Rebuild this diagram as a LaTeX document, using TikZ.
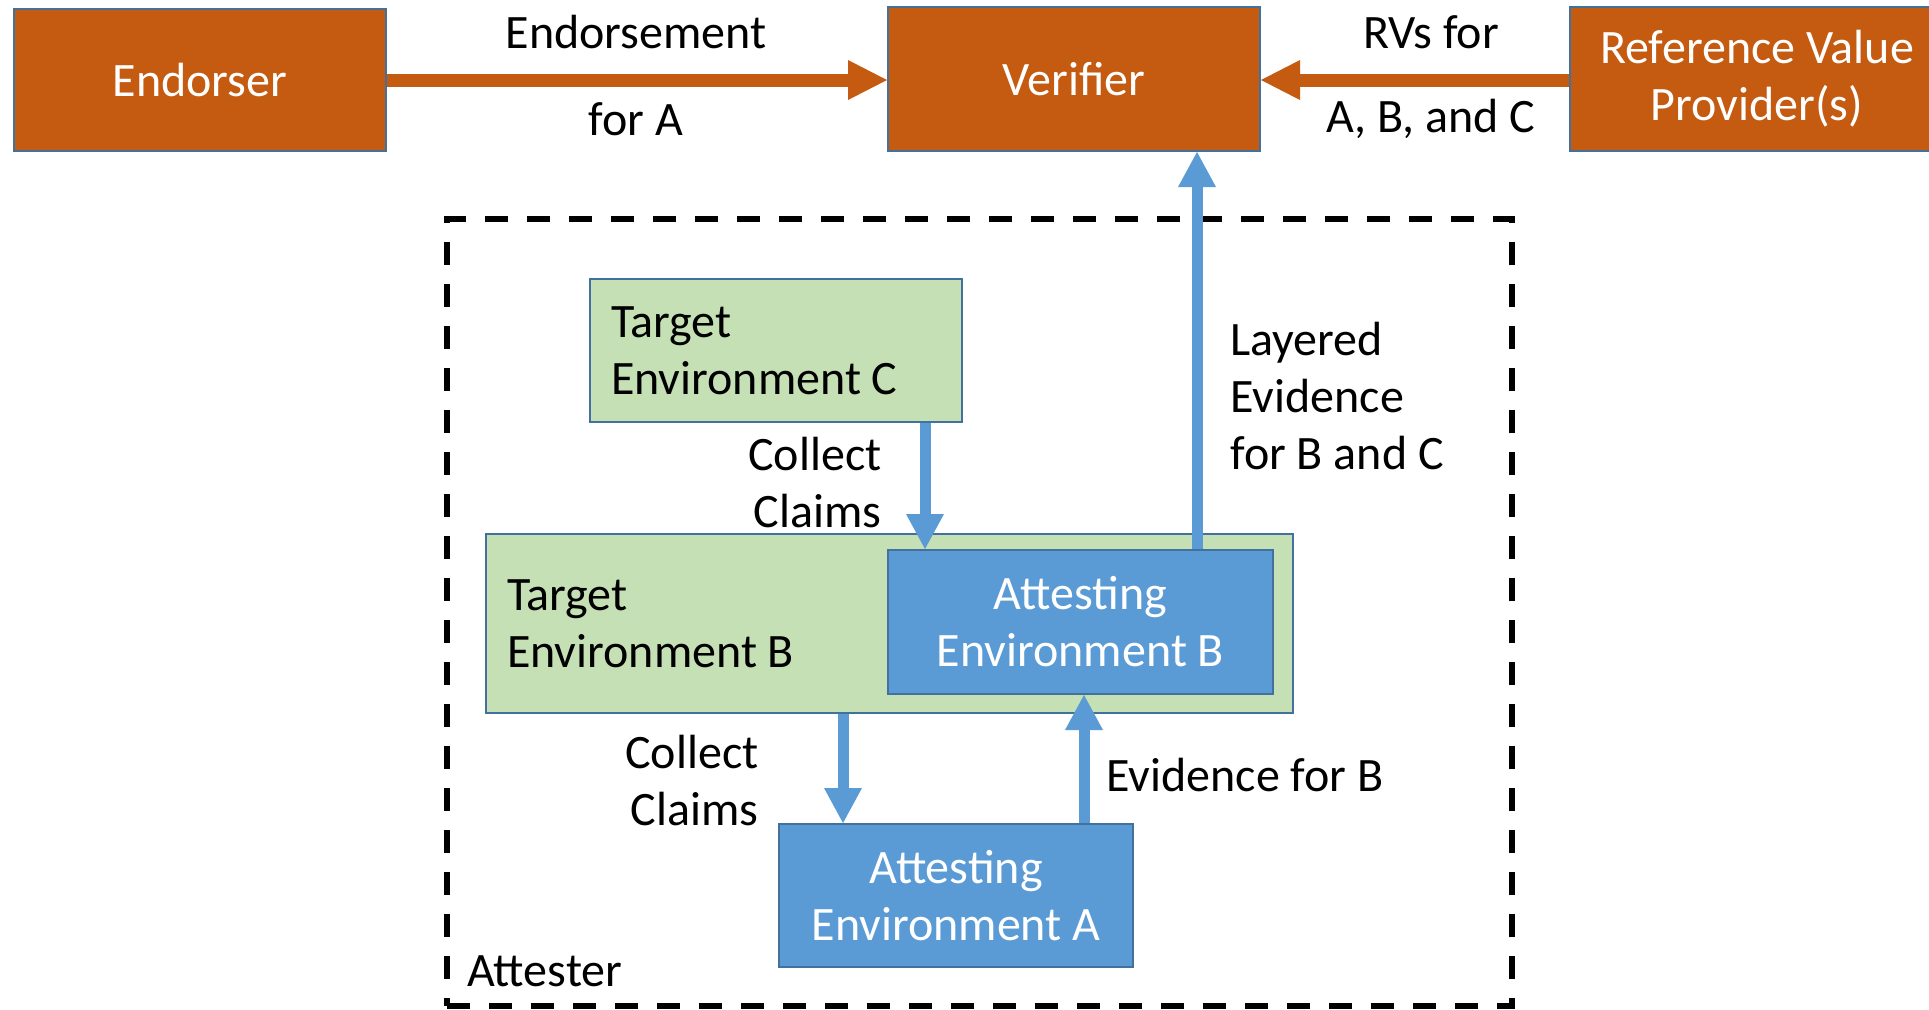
\documentclass[tikz,border=0pt]{standalone}
\usepackage{fontspec}
\setmainfont{Carlito}
\usetikzlibrary{arrows.meta}
\definecolor{rustbox}{HTML}{C55A11}
\definecolor{skybox}{HTML}{5B9BD5}
\definecolor{sagebox}{HTML}{C5E0B4}
\definecolor{edgeblue}{HTML}{41719C}
\begin{document}
\begin{tikzpicture}[x=0.5pt,y=-0.5pt,
  every node/.style={font=\fontsize{24}{28.5}\selectfont},
  box/.style={draw=edgeblue, line width=1pt, inner sep=0pt},
  orangebox/.style={box, fill=rustbox, text=white, align=center},
  bluebox/.style={box, fill=skybox, text=white, align=center},
  greenbox/.style={box, fill=sagebox, text=black, align=flush left, inner xsep=10.5pt},
  lbl/.style={inner sep=0pt, text=black},
  orangeflow/.style={draw=rustbox, line width=6.5pt,
    -{Triangle[length=19.5pt,width=20pt,line width=0pt]}},
  blueflow/.style={draw=skybox, line width=5.5pt,
    -{Triangle[length=17.5pt,width=19pt,line width=0pt]}},
]
\useasboundingbox (0,0) rectangle (1929,1009);

% top row
\node[orangebox, minimum width=186pt, minimum height=71pt] (endorser) at (200,80) {Endorser};
\node[orangebox, minimum width=186pt, minimum height=72pt] (verifier) at (1074,79) {Verifier};
\node[orangebox, minimum width=187pt, minimum height=72pt] (rvp) at (1757,79) {Reference Value\\Provider(s)};

% attester boundary
\node[draw=black, line width=3pt, dash pattern=on 11.5pt off 9.5pt,
  minimum width=532.5pt, minimum height=393.5pt, inner sep=0pt] (attester) at (979.5,612.5) {};
\node[lbl, anchor=west] (attesterlbl) at (467,971) {Attester};

% environments
\node[greenbox, text width=165pt, minimum width=186pt, minimum height=71.5pt] (tec) at (776,350.5) {Target\\Environment C};
\node[greenbox, text width=382.5pt, minimum width=402.5pt, minimum height=89.5pt] (teb) at (889.5,623.5) {Target\\Environment B};
\node[bluebox, minimum width=192.5pt, minimum height=72pt] (aeb) at (1080.5,622) {Attesting\\Environment B};
\node[bluebox, minimum width=177pt, minimum height=71.5pt] (aea) at (956,895.5) {Attesting\\Environment A};

% connector labels
\node[lbl] (endtop) at (636,32) {Endorsement};
\node[lbl] (endbot) at (636,119) {for A};
\node[lbl] (rvtop) at (1431,32) {RVs for};
\node[lbl] (rvbot) at (1431,119) {A, B, and C};
\node[lbl, align=right, anchor=east] (ccc) at (882,482) {Collect\\Claims};
\node[lbl, align=right, anchor=east] (ccb) at (759,780) {Collect\\Claims};
\node[lbl, align=left, anchor=west] (layered) at (1230,396) {Layered\\Evidence\\for B and C};
\node[lbl, anchor=west] (evb) at (1106,775) {Evidence for B};

% connector positions
\coordinate (flowy) at (0,80);
\coordinate (upx) at (1197,0);
\coordinate (ccx) at (925,0);
\coordinate (cbx) at (843,0);
\coordinate (evx) at (1084,0);

% connectors
\draw[orangeflow] (endorser.east |- flowy) -- (verifier.west |- flowy);
\draw[orangeflow] (rvp.west |- flowy) -- (verifier.east |- flowy);
\draw[blueflow] (aeb.north -| upx) -- (verifier.south -| upx);
\draw[blueflow] (tec.south -| ccx) -- (aeb.north -| ccx);
\draw[blueflow] (teb.south -| cbx) -- (aea.north -| cbx);
\draw[blueflow] (aea.north -| evx) -- (aeb.south -| evx);
\end{tikzpicture}
\end{document}
